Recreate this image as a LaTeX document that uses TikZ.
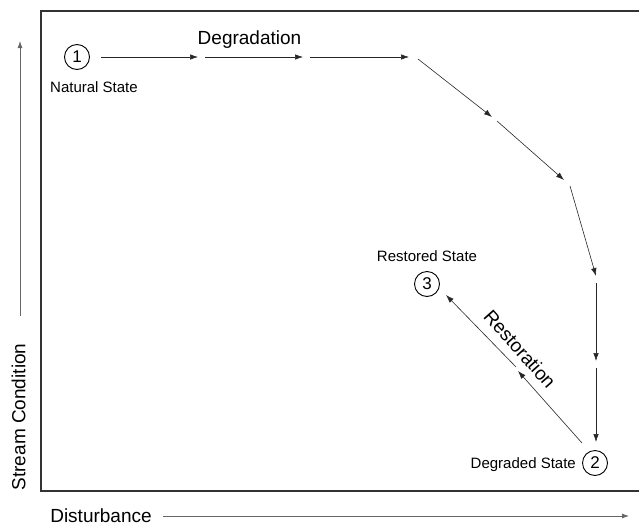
\documentclass[tikz,border=0pt]{standalone}
\usepackage{fontspec}
\setmainfont{Liberation Sans}
\usetikzlibrary{arrows.meta}
\begin{document}
\begin{tikzpicture}[x=1pt,y=-1pt,
  seg/.style={draw=black!85,line width=0.6pt,-{Latex[length=8pt,width=5.5pt]}},
  axis/.style={draw=black!60,line width=0.8pt,-{Latex[length=7pt,width=5pt]}},
  frame/.style={draw=black!80,line width=1.3pt},
  statec/.style={circle,draw=black,line width=0.9pt,minimum size=25pt,inner sep=0pt,font=\fontsize{17}{17}\selectfont},
  small/.style={inner sep=0pt,font=\fontsize{15}{17}\selectfont},
  big/.style={inner sep=0pt,font=\fontsize{19}{22}\selectfont}]
\useasboundingbox (0,0) rectangle (639,525);
\draw[frame] (639,11) -- (41,11) -- (41,491) -- (639,491);
% axes
\coordinate (ya) at (20,316);
\coordinate (yb) at (20,41);
\draw[axis] (ya) -- (yb);
\node[big,rotate=90] (ylab) at (18.5,417) {Stream Condition};
\node[big] (xlab) at (101,515.5) {Disturbance};
\coordinate (xa) at (163,516);
\coordinate (xb) at (629,516);
\draw[axis] (xa) -- (xb);
% states
\node[statec] (n1) at (77,57) {1};
\node[statec] (n2) at (595,463) {2};
\node[statec] (n3) at (427,284) {3};
\node[small] (l1) at (94,87) {Natural State};
\node[small,anchor=east] (l2) at (576,465) {Degraded State};
\node[small] (l3) at (427,256) {Restored State};
\node[big] (deg) at (249.5,40) {Degradation};
\node[big,rotate=-48.4] (res) at (520,349) {Restoration};
% degradation path
\coordinate (a1) at (101,57);  \coordinate (b1) at (198,57);
\coordinate (a2) at (205,57);  \coordinate (b2) at (303,57);
\coordinate (a3) at (310,57);  \coordinate (b3) at (409,57);
\coordinate (a4) at (418,59);  \coordinate (b4) at (492,117);
\coordinate (a5) at (497,121); \coordinate (b5) at (564,180);
\coordinate (a6) at (570,186); \coordinate (b6) at (596,276);
\coordinate (a7) at (596,283); \coordinate (b7) at (596,361);
\coordinate (a8) at (596,368); \coordinate (b8) at (596,442);
\foreach \i in {1,...,8} {\draw[seg] (a\i) -- (b\i);}
% restoration path
\coordinate (r1) at (582,443); \coordinate (r2) at (518,371);
\coordinate (r3) at (516,367); \coordinate (r4) at (446,295);
\draw[seg] (r1) -- (r2);
\draw[seg] (r3) -- (r4);
\end{tikzpicture}
\end{document}
